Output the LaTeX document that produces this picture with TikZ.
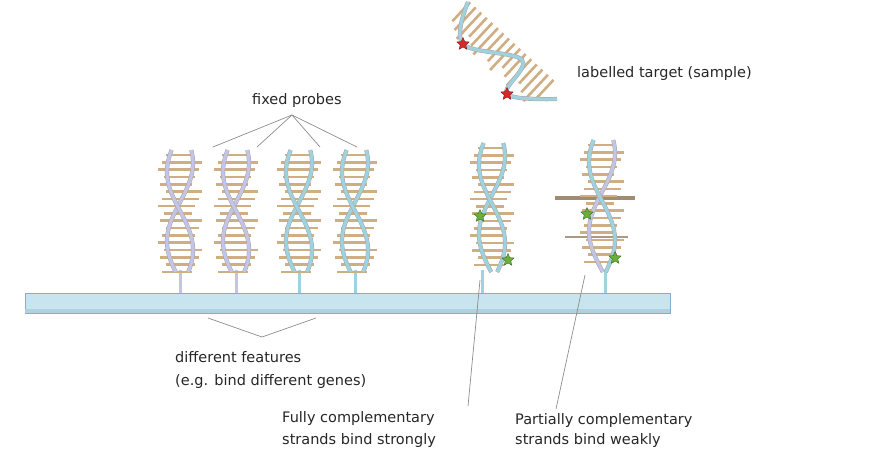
\documentclass[tikz,border=0pt]{standalone}
\usepackage{fontspec}
\setmainfont{DejaVu Sans}
\usetikzlibrary{shapes.geometric}
\definecolor{lav}{HTML}{C4C4E4}
\definecolor{cyanS}{HTML}{9ED2DE}
\definecolor{tan}{HTML}{CFAE84}
\definecolor{brn}{HTML}{8A6E4E}
\definecolor{barF}{HTML}{C8E4EE}
\definecolor{barD}{HTML}{7FB2C8}
\definecolor{redS}{HTML}{D42A2A}
\definecolor{redD}{HTML}{8A1010}
\definecolor{grnS}{HTML}{6AAE3C}
\definecolor{grnD}{HTML}{3C6E20}
\tikzset{
 strand/.style={line width=3.2pt,draw=#1},
 strandedge/.style={line width=4.2pt,draw=black!35},
 bp/.style={line width=2.6pt,draw=tan},
 lbl/.style={font=\fontsize{14.5}{18}\selectfont,text=black!85,inner sep=0pt,anchor=west,align=left},
 lead/.style={draw=black!45,line width=0.7pt},
 mystar/.style 2 args={star,star points=5,star point ratio=2.2,inner sep=0pt,minimum size=13pt,draw=#2,fill=#1,line width=0.4pt}
}
% cx, ytop, ybot, colorA, colorB
\newcommand\myhelix[5]{%
 \foreach \k in {0,...,16}{%
   \pgfmathsetmacro\yy{#2+5+\k*7.3}%
   \pgfmathsetmacro\ll{14+8*mod(\k*7,5)/4}%
   \pgfmathsetmacro\rr{12+10*mod(\k*3,4)/3}%
   \draw[bp] ({#1-\ll},\yy) -- ({#1+\rr},\yy);}
 \draw[strandedge] plot[domain=#2:#3,samples=70,smooth] ({#1+13*sin(2.3*(\x-#2)+60)},\x);
 \draw[strand=#4] plot[domain=#2:#3,samples=70,smooth] ({#1+13*sin(2.3*(\x-#2)+60)},\x);
 \draw[strandedge] plot[domain=#2:#3,samples=70,smooth] ({#1+13*sin(2.3*(\x-#2)+220)},\x);
 \draw[strand=#5] plot[domain=#2:#3,samples=70,smooth] ({#1+13*sin(2.3*(\x-#2)+220)},\x);
}
\begin{document}
\begin{tikzpicture}[x=1pt,y=-1pt]
\useasboundingbox (0,0) rectangle (883,451);
% stems
\foreach \c/\col in {180/lav,236/lav,299/cyanS,355/cyanS,482/cyanS,605/cyanS}{
  \draw[line width=3pt,draw=\col] (\c,270) -- (\c,295);}
% probes
\myhelix{180}{150}{272}{lav}{lav}
\myhelix{236}{150}{272}{lav}{lav}
\myhelix{299}{150}{272}{cyanS}{cyanS}
\myhelix{355}{150}{272}{cyanS}{cyanS}
\myhelix{492}{143}{272}{cyanS}{cyanS}
% partially complementary extra dark bars
\draw[line width=3.2pt,draw=brn!80] (555,198) -- (635,198);
\draw[line width=2.4pt,draw=brn!70] (565,237) -- (628,237);
\myhelix{602}{140}{272}{lav}{cyanS}
% bar
\draw[fill=barF,draw=barD,line width=0.8pt] (25,293) rectangle (670,313);
\fill[barD!60] (25,309) rectangle (670,313);
% target
\begin{scope}[shift={(503,52)},rotate=-43]
 \foreach \k in {0,...,15}{%
   \pgfmathsetmacro\xx{-58+\k*7.6}%
   \draw[bp] (\xx,-14) -- (\xx,{12+5*mod(\k,3)});}
\end{scope}
\draw[line width=4.2pt,draw=black!35] plot[smooth,tension=0.6] coordinates {(468,2) (463,44) (522,60) (507,94) (557,99)};
\draw[strand=cyanS] plot[smooth,tension=0.6] coordinates {(468,2) (463,44) (522,60) (507,94) (557,99)};
\node[mystar={redS}{redD}] (rs1) at (463,44) {};
\node[mystar={redS}{redD}] (rs2) at (507,94) {};
\node[mystar={grnS}{grnD}] (gs1) at (480,216) {};
\node[mystar={grnS}{grnD}] (gs2) at (508,260) {};
\node[mystar={grnS}{grnD}] (gs3) at (587,214) {};
\node[mystar={grnS}{grnD}] (gs4) at (615,258) {};
% labels
\node[lbl] (tgt) at (577,73) {labelled target (sample)};
\node[lbl] (fp) at (252,100) {fixed probes};
\coordinate (apex) at (292,115);
\draw[lead] (apex) -- (213,147);
\draw[lead] (apex) -- (257,147);
\draw[lead] (apex) -- (320,147);
\draw[lead] (apex) -- (357,147);
\node[lbl] (df) at (175,357) {different features};
\node[lbl] (eg) at (175,381) {(e.g. bind different genes)};
\coordinate (dv) at (262,337);
\draw[lead] (208,318) -- (dv) -- (316,318);
\node[lbl] (fc1) at (282,418) {Fully complementary};
\node[lbl] (fc2) at (282,440) {strands bind strongly};
\node[lbl] (pc1) at (515,420) {Partially complementary};
\node[lbl] (pc2) at (515,440) {strands bind weakly};
\coordinate (fa) at (480,280);
\coordinate (pa) at (585,275);
\draw[lead] (fa) -- (468,406);
\draw[lead] (pa) -- (556,409);
\end{tikzpicture}
\end{document}
